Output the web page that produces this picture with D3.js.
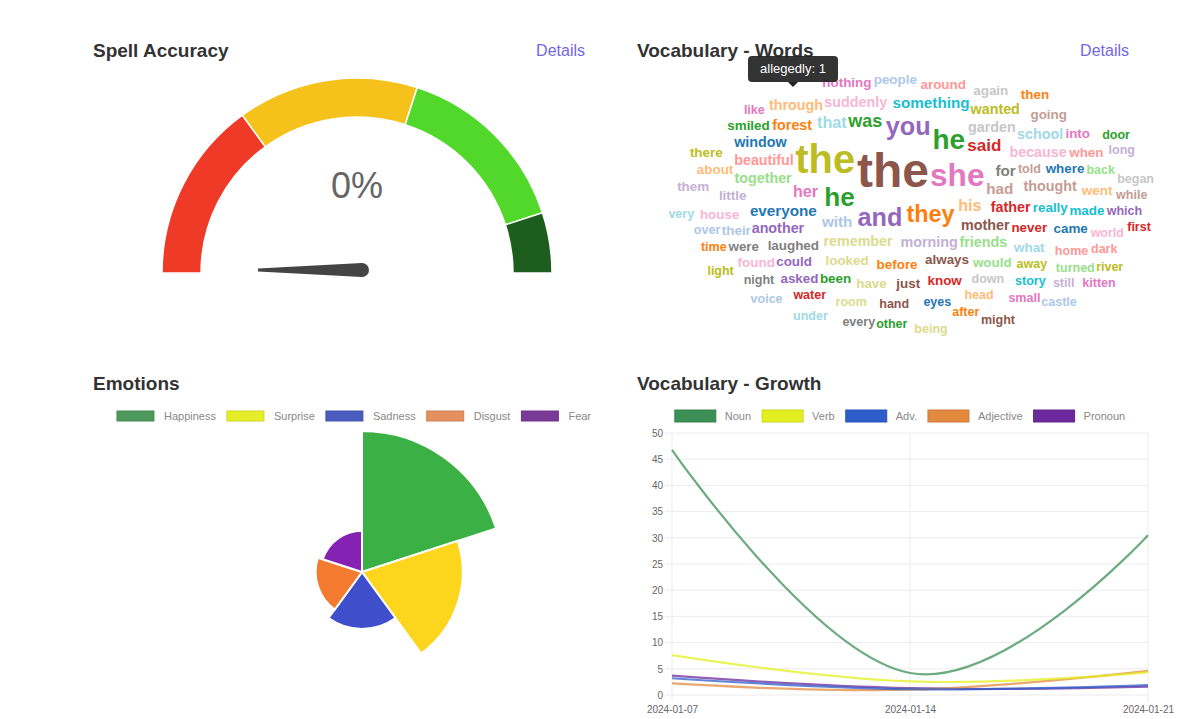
<!DOCTYPE html>
<html><head><meta charset="utf-8">
<script src="https://cdn.jsdelivr.net/npm/d3@7"></script>
<style>
html,body{margin:0;padding:0;background:#fff;}
svg{display:block;font-family:"Liberation Sans",Arial,sans-serif;}
</style></head>
<body>
<svg id="chart" width="1203" height="719"></svg>
<script>
// ---------------- DATA ----------------
const panelTitles = ["Spell Accuracy", "Vocabulary - Words", "Emotions", "Vocabulary - Growth"];
const linkLabel = "Details";

const gaugeValue = 0;
const gaugeBandStops = [0, 30, 60, 90, 100];
const gaugeBandColors = ["#ee3a26", "#f4c21b", "#52d82b", "#1d5e1f"];

const emotionLabels = ["Happiness", "Surprise", "Sadness", "Disgust", "Fear"];
const emotionValues = [28, 20, 11.3, 9.2, 8.2];
const emotionColors = ["#3bb044", "#fcd61c", "#3f4fcb", "#f37a2f", "#8521b3"];
const emotionLegendColors = ["#4e9a5c", "#e4ef2a", "#4a5cbd", "#e4915f", "#7a3b98"];

const growthDates = ["2024-01-07", "2024-01-14", "2024-01-21"];
const growthLabels = ["Noun", "Verb", "Adv.", "Adjective", "Pronoun"];
const growthNoun = [46.8, 4.2, 30.5];
const growthVerb = [7.6, 2.6, 4.3];
const growthAdv = [3.2, 1.1, 1.9];
const growthAdjective = [2.2, 1.0, 4.6];
const growthPronoun = [3.7, 1.3, 1.6];
const growthColors = ["#3c8f55", "#e3f01f", "#2d5ccb", "#e38a3f", "#6b2a9c"];
const growthTicks = [0, 5, 10, 15, 20, 25, 30, 35, 40, 45, 50];

const cloudWords = ["the","the","she","he","he","you","and","they","was","said","her","his","that","with","had","for",
 "something","everyone","suddenly","beautiful","together","remember","morning","garden","forest","mother","father",
 "window","because","through","another","thought","wanted","friends","school","around","people","nothing","laughed",
 "smiled","little","looked","before","always","never","really","where","again","about","going","house","could","would",
 "there","their","when","what","into","then","them","were","been","have","just","know","came","made","went","found",
 "asked","told","back","down","over","away","home","like","very","time","long","night","water","door","room","hand",
 "eyes","head","story","world","which","while","began","turned","voice","light","dark","small","under","after","still",
 "every","first","other","being","might","inside","outside","quietly","happily","answered","decided","whispered",
 "dragon","castle","river","puppy","kitten","rabbit","pocket","secret","magic","treasure","journey","wonder"];
const cloudCounts = [40,31,22,18,16,15,15,13,7,6,5,5,5,4,4,4,
 4,4,3,3,3,3,3,3,3,3,3,
 3,3,3,3,3,3,3,3,2,2,2,2,
 2,2,2,2,2,2,2,2,2,2,2,2,2,2,
 2,2,2,2,2,2,2,2,2,2,2,2,2,2,2,
 2,2,1,1,1,1,1,1,1,1,1,1,1,1,1,1,
 1,1,1,1,1,1,1,1,1,1,1,1,1,1,1,
 1,1,1,1,1,1,1,1,1,1,1,1,
 1,1,1,1,1,1,1,1,1,1,1,1];
const cloudTones = [10,16,12,4,4,8,8,2,4,6,12,3,19,1,11,14,
 18,0,13,7,5,17,9,15,2,10,6,
 0,13,3,8,11,16,5,19,7,1,12,14,
 4,9,17,2,10,6,18,0,15,3,11,13,8,5,
 16,1,7,19,12,2,9,14,4,17,10,6,0,18,3,
 13,8,11,5,15,1,16,7,12,19,2,9,14,6,4,
 17,10,0,3,18,13,8,11,15,5,1,16,7,12,19,
 2,9,14,6,4,17,10,0,3,18,13,8,
 11,15,5,1,16,7,12,19,2,9,14,6];
const hoveredWord = "allegedly";
const hoveredCount = 1;

const category20 = ["#1f77b4","#aec7e8","#ff7f0e","#ffbb78","#2ca02c","#98df8a","#d62728","#ff9896",
 "#9467bd","#c5b0d5","#8c564b","#c49c94","#e377c2","#f7b6d2","#7f7f7f","#c7c7c7","#bcbd22","#dbdb8d","#17becf","#9edae5"];

// ---------------- SETUP ----------------
const svg = d3.select("#chart");
const titleColor = "#333";
const linkColor = "#7466e8";

const titlePos = [[93,57],[637,57],[93,390],[637,390]];
svg.selectAll("text.title").data(panelTitles).join("text")
  .attr("class","title")
  .attr("x",(d,i)=>titlePos[i][0]).attr("y",(d,i)=>titlePos[i][1])
  .attr("font-size",19).attr("font-weight","bold").attr("fill",titleColor)
  .text(d=>d);
svg.selectAll("text.link").data([585,1129]).join("text")
  .attr("class","link").attr("x",d=>d).attr("y",56)
  .attr("text-anchor","end").attr("font-size",16).attr("fill",linkColor)
  .text(linkLabel);

// ---------------- GAUGE ----------------
(function(){
  const cx = 357, cy = 273, rOut = 195, rIn = 156;
  const ang = d3.scaleLinear().domain([0,100]).range([-Math.PI/2, Math.PI/2]);
  const g = svg.append("g").attr("transform",`translate(${cx},${cy})`);
  const arc = d3.arc().innerRadius(rIn).outerRadius(rOut);
  const bands = gaugeBandColors.map((c,i)=>({from:gaugeBandStops[i],to:gaugeBandStops[i+1],c}));
  g.selectAll("path.band").data(bands).join("path").attr("class","band")
    .attr("d",d=>arc({startAngle:ang(d.from),endAngle:ang(d.to)}))
    .attr("fill",d=>d.c).attr("stroke","#fff").attr("stroke-width",1.5);
  g.append("text").attr("x",0).attr("y",-75).attr("text-anchor","middle")
    .attr("font-size",36).attr("fill","#666").text(gaugeValue+"%");
  const a = ang(gaugeValue) - Math.PI/2;
  const len = 104, base = 7;
  const tip = [Math.cos(a)*len, Math.sin(a)*len];
  const px = -Math.sin(a), py = Math.cos(a);
  const ng = g.append("g").attr("transform","translate(5,-3)");
  ng.append("path")
    .attr("d",`M${px*base},${py*base} L${tip[0]+px*1.5},${tip[1]+py*1.5} L${tip[0]-px*1.5},${tip[1]-py*1.5} L${-px*base},${-py*base} Z`)
    .attr("fill","#444");
  ng.append("circle").attr("r",base).attr("fill","#444");
})();

// ---------------- WORD CLOUD ----------------
(function(){
  const cx = 918, cy = 203, RX = 252, RY = 140;
  const ox = 893, oy = 170, phase = -3.042;
  const size = d3.scaleLinear().domain([1,40]).range([12.5,48]);
  const canvas = document.createElement("canvas");
  const ctx = canvas.getContext("2d");
  const words = cloudWords.map((w,i)=>({text:w,count:cloudCounts[i],tone:cloudTones[i],idx:i}))
    .sort((a,b)=>b.count-a.count || a.idx-b.idx);
  const placed = [];
  function fits(b,pad){
    const corners = [[b.x0,b.y0],[b.x1,b.y0],[b.x0,b.y1],[b.x1,b.y1]];
    for (const [x,y] of corners){
      const nx=(x-cx)/RX, ny=(y-cy)/RY;
      if (nx*nx+ny*ny>1) return false;
    }
    for (const p of placed){
      if (b.x0 < p.x1+pad && b.x1+pad > p.x0 && b.y0 < p.y1+pad && b.y1+pad > p.y0) return false;
    }
    return true;
  }
  const ASC = 0.905, DESC = 0.212;
  words.forEach(w=>{
    const fs = size(w.count);
    ctx.font = `bold ${fs}px "Liberation Sans"`;
    const tw = ctx.measureText(w.text).width;
    const th = fs*(ASC+DESC);
    const pad = 0.8;
    for (let t=0; t<420; t+=0.06){
      const r = 1.05*t;
      const x = ox + Math.cos(t+phase)*r*1.8;
      const y = oy - Math.sin(t+phase)*r;
      const b = {x0:x-tw/2, x1:x+tw/2, y0:y-th/2, y1:y+th/2};
      if (fits(b,pad)){
        placed.push(b);
        w.x = x; w.base = y - th/2 + fs*ASC; w.fs = fs; w.ok = true;
        break;
      }
    }
  });
  svg.append("g").selectAll("text").data(words.filter(d=>d.ok)).join("text")
    .attr("x",d=>d.x).attr("y",d=>d.base)
    .attr("text-anchor","middle").attr("font-size",d=>d.fs).attr("font-weight","bold")
    .attr("fill",d=>category20[d.tone]).text(d=>d.text);

  const tg = svg.append("g").attr("transform","translate(793,82)");
  tg.append("rect").attr("x",-45).attr("y",-26).attr("width",90).attr("height",26).attr("rx",4)
    .attr("fill","#222").attr("fill-opacity",0.92);
  tg.append("path").attr("d","M-5,0 L0,5 L5,0 Z").attr("fill","#222");
  tg.append("text").attr("x",0).attr("y",-9).attr("text-anchor","middle")
    .attr("font-size",13).attr("fill","#fff").text(`${hoveredWord}: ${hoveredCount}`);
})();

// ---------------- LEGEND helper ----------------
function legend(labels, colors, centerX, y, boxW, boxH, gap, itemGap){
  const g = svg.append("g");
  const items = g.selectAll("g").data(labels).join("g");
  items.append("rect").attr("width",boxW).attr("height",boxH).attr("y",y-boxH/2)
    .attr("fill",(d,i)=>colors[i]).attr("stroke",(d,i)=>d3.color(colors[i]).darker(0.3)).attr("stroke-width",1);
  items.append("text").attr("x",boxW+gap).attr("y",y+3.5).attr("font-size",11).attr("fill","#888").text(d=>d);
  let x = 0; const xs = [];
  items.each(function(){ const tw = d3.select(this).select("text").node().getComputedTextLength();
    xs.push(x); x += boxW+gap+tw+itemGap; });
  const total = x - itemGap;
  items.attr("transform",(d,i)=>`translate(${centerX-total/2+xs[i]},0)`);
}

// ---------------- POLAR AREA ----------------
(function(){
  legend(emotionLabels, emotionLegendColors, 354, 416, 37, 10, 10, 11);
  const cx = 362, cy = 572;
  const r = d3.scaleLinear().domain([0, d3.max(emotionValues)]).range([0, 141]);
  const step = 2*Math.PI/emotionValues.length;
  const arc = d3.arc().innerRadius(0);
  svg.append("g").attr("transform",`translate(${cx},${cy})`)
    .selectAll("path").data(emotionValues).join("path")
    .attr("d",(d,i)=>arc({outerRadius:r(d),startAngle:i*step,endAngle:(i+1)*step}))
    .attr("fill",(d,i)=>emotionColors[i]).attr("stroke","#fff").attr("stroke-width",2);
})();

// ---------------- LINE CHART ----------------
(function(){
  legend(growthLabels, growthColors, 900, 416, 41, 12, 9, 11);
  const x0 = 672, x1 = 1148, y0 = 695, y1 = 433;
  const x = d3.scalePoint().domain(growthDates).range([x0,x1]);
  const y = d3.scaleLinear().domain([0,50]).range([y0,y1]);
  const g = svg.append("g");
  g.selectAll("line.hg").data(growthTicks).join("line").attr("class","hg")
    .attr("x1",x0-7).attr("x2",x1).attr("y1",d=>y(d)).attr("y2",d=>y(d))
    .attr("stroke","#ececec").attr("stroke-width",1);
  g.selectAll("line.vg").data(growthDates).join("line").attr("class","vg")
    .attr("x1",d=>x(d)).attr("x2",d=>x(d)).attr("y1",y1).attr("y2",y0+7)
    .attr("stroke","#ececec").attr("stroke-width",1);
  const yAxis = d3.axisLeft(y).tickValues(growthTicks).tickSize(0).tickPadding(9);
  const ya = g.append("g").attr("transform",`translate(${x0},0)`).call(yAxis);
  ya.select(".domain").remove();
  ya.selectAll("text").attr("font-size",10).attr("fill","#666").attr("font-family","Liberation Sans, Arial");
  const xAxis = d3.axisBottom(x).tickSize(0).tickPadding(11);
  const xa = g.append("g").attr("transform",`translate(0,${y0})`).call(xAxis);
  xa.select(".domain").remove();
  xa.selectAll("text").attr("font-size",10).attr("fill","#666").attr("font-family","Liberation Sans, Arial");

  const series = [growthNoun, growthVerb, growthAdv, growthAdjective, growthPronoun];
  const line = d3.line().x((d,i)=>x(growthDates[i])).y(d=>y(d)).curve(d3.curveCardinal.tension(-0.2));
  g.selectAll("path.s").data(series.slice().reverse()).join("path").attr("class","s")
    .attr("d",line).attr("fill","none")
    .attr("stroke",(d,i)=>growthColors[series.length-1-i])
    .attr("stroke-opacity",0.75).attr("stroke-width",2.2);
})();
</script>
</body></html>
